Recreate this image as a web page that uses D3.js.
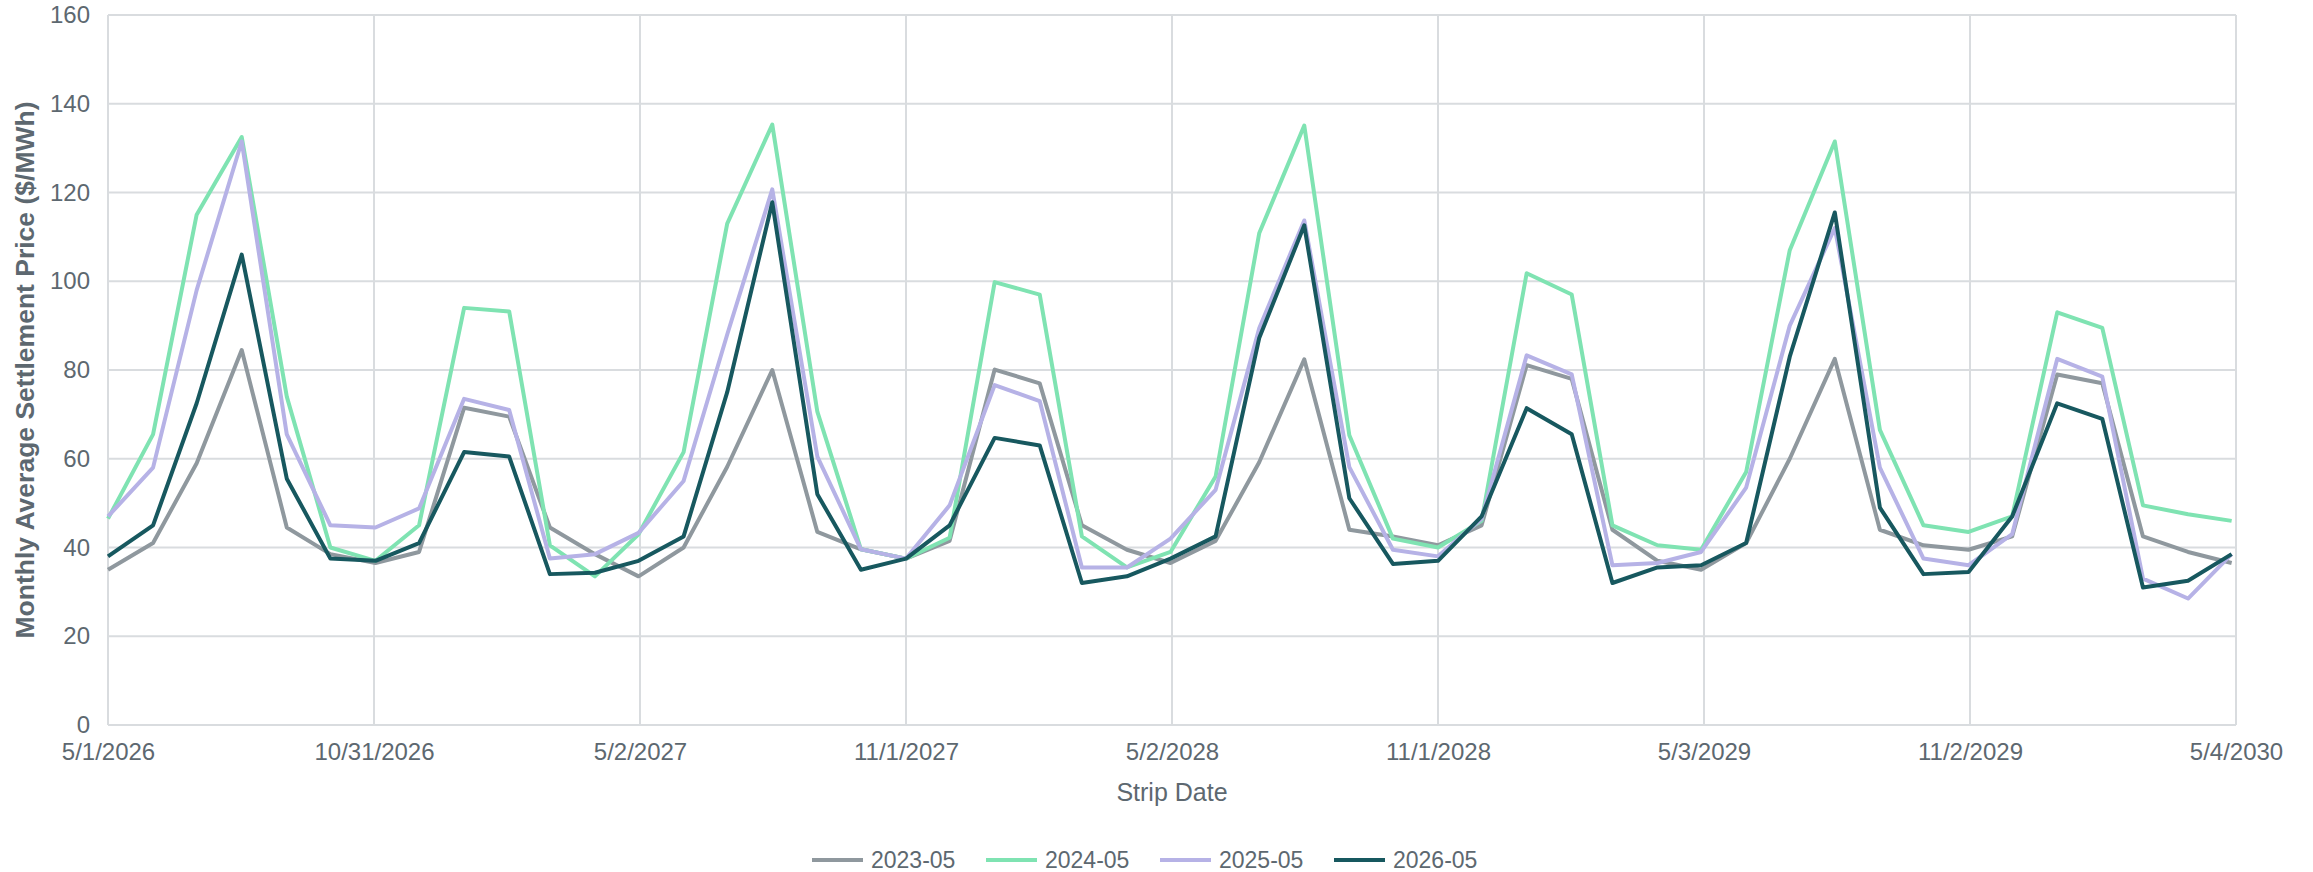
<!DOCTYPE html>
<html>
<head>
<meta charset="utf-8">
<script src="https://cdn.jsdelivr.net/npm/d3@7"></script>
<style>
  body { margin: 0; background: #fff; }
  text { font-family: "Liberation Sans", Arial, sans-serif; }
</style>
</head>
<body>
<svg id="chart" width="2313" height="872" viewBox="0 0 2313 872"></svg>
<script>

/* ----- Data ----- */

// first strip month, one value per month after that
const start_date = new Date(2026, 4, 1);
const end_date = new Date(2030, 4, 4);

const series_names = ["2023-05", "2024-05", "2025-05", "2026-05"];
const series_colors = ["#8f989e", "#7fe3b2", "#b6b2e6", "#17585f"];

const curve_2023_05 = [35, 41, 59, 84.5, 44.5, 38.5, 36.5, 39, 71.5, 69.5, 44.5, 38.5,
    33.5, 40, 58.2, 80, 43.5, 39.6, 37.5, 41.5, 80.1, 77, 45, 39.5,
    36.5, 41.5, 59.2, 82.4, 44, 42.5, 40.5, 45, 81.1, 78, 44, 37,
    35, 41, 60, 82.5, 44, 40.5, 39.5, 42.5, 79, 77, 42.5, 39, 36.5];

const curve_2024_05 = [46.5, 65.5, 115, 132.5, 74, 40, 37, 45, 94, 93.2, 40.5, 33.5,
    43, 61.5, 113, 135.3, 70.6, 39.6, 37.5, 42.2, 99.8, 97, 42.5, 35.5,
    39, 56, 110.8, 135.1, 65.3, 42, 40, 46, 101.8, 97, 45, 40.5,
    39.5, 57, 107, 131.5, 66.5, 45, 43.5, 47, 93, 89.5, 49.5, 47.5, 46];

const curve_2025_05 = [47, 58, 98, 131.5, 65.5, 45, 44.5, 48.8, 73.5, 71, 37.5, 38.5,
    43.3, 55, 88, 120.7, 60.5, 39.6, 37.5, 49.5, 76.6, 73, 35.5, 35.5,
    42, 53, 89.4, 113.7, 58.1, 39.5, 38, 46.5, 83.3, 79, 36, 36.5,
    39, 53.5, 90, 112, 58, 37.5, 36, 43, 82.5, 78.5, 33, 28.5, 38.5];

const curve_2026_05 = [38, 45, 72.5, 106, 55.5, 37.5, 37, 41, 61.5, 60.5, 34, 34.3,
    37, 42.5, 75, 117.8, 52, 35, 37.5, 45, 64.7, 63, 32, 33.5,
    37.5, 42.5, 87.2, 112.6, 51.1, 36.3, 37, 47, 71.4, 65.5, 32, 35.5,
    36, 41, 83, 115.5, 49, 34, 34.5, 47, 72.5, 69, 31, 32.5, 38.5];

const y_ticks = [0, 20, 40, 60, 80, 100, 120, 140, 160];


/* ----- Layout ----- */

let svg = d3.select("#chart");
let margin = {left: 108, right: 77, top: 15, bottom: 147};
let width = 2313 - margin.left - margin.right;
let height = 872 - margin.top - margin.bottom;

let main_group = svg.append("g")
    .attr("transform", `translate(${margin.left}, ${margin.top})`);

let months = d3.range(curve_2023_05.length).map(i => d3.timeMonth.offset(start_date, i));

let data = series_names.map((name, k) => ({
    name: name,
    color: series_colors[k],
    values: [curve_2023_05, curve_2024_05, curve_2025_05, curve_2026_05][k]
        .map((v, i) => ({date: months[i], value: v}))
}));


/* ----- Scales ----- */

let x = d3.scaleTime()
    .domain([start_date, end_date])
    .range([0, width]);

let y = d3.scaleLinear()
    .domain([0, 160])
    .range([height, 0]);

// excel style date ticks, one every 183 days
let x_ticks = d3.range(0, 9).map(k => d3.timeDay.offset(start_date, k * 183));


/* ----- Grid ----- */

main_group.append("g")
    .selectAll("line")
    .data(y_ticks)
    .enter()
    .append("line")
    .attr("x1", 0)
    .attr("x2", width)
    .attr("y1", d => y(d))
    .attr("y2", d => y(d))
    .attr("stroke", "#d9dcdf")
    .attr("stroke-width", 2);

main_group.append("g")
    .selectAll("line")
    .data(x_ticks)
    .enter()
    .append("line")
    .attr("x1", d => x(d))
    .attr("x2", d => x(d))
    .attr("y1", 0)
    .attr("y2", height)
    .attr("stroke", "#d9dcdf")
    .attr("stroke-width", 2);


/* ----- Axes ----- */

let fmt = d => `${d.getMonth() + 1}/${d.getDate()}/${d.getFullYear()}`;

let x_axis = main_group.append("g")
    .attr("transform", `translate(0, ${height})`)
    .call(d3.axisBottom(x).tickValues(x_ticks).tickFormat(fmt).tickSize(0).tickPadding(18));

let y_axis = main_group.append("g")
    .call(d3.axisLeft(y).tickValues(y_ticks).tickSize(0).tickPadding(18));

[x_axis, y_axis].forEach(a => {
    a.select(".domain").remove();
    a.selectAll("text")
        .attr("fill", "#5d6870")
        .attr("font-size", 24);
});

svg.append("text")
    .attr("x", margin.left + width / 2)
    .attr("y", 801)
    .attr("text-anchor", "middle")
    .attr("fill", "#5d6870")
    .attr("font-size", 25)
    .text("Strip Date");

svg.append("text")
    .attr("transform", `translate(34, ${margin.top + height / 2}) rotate(-90)`)
    .attr("text-anchor", "middle")
    .attr("fill", "#5d6870")
    .attr("font-size", 26.5)
    .attr("font-weight", "bold")
    .text("Monthly Average Settlement Price ($/MWh)");


/* ----- Lines ----- */

let line = d3.line()
    .x(d => x(d.date))
    .y(d => y(d.value));

main_group.append("g")
    .selectAll("path")
    .data(data)
    .enter()
    .append("path")
    .attr("d", d => line(d.values))
    .attr("fill", "none")
    .attr("stroke", d => d.color)
    .attr("stroke-width", 4)
    .attr("stroke-linejoin", "round");


/* ----- Legend ----- */

let legend = svg.append("g")
    .attr("transform", "translate(812, 860)");

let legend_items = legend.selectAll("g")
    .data(data)
    .enter()
    .append("g")
    .attr("transform", (d, i) => `translate(${i * 174}, 0)`);

legend_items.append("line")
    .attr("x1", 0)
    .attr("x2", 51)
    .attr("y1", 0)
    .attr("y2", 0)
    .attr("stroke", d => d.color)
    .attr("stroke-width", 4);

legend_items.append("text")
    .attr("x", 59)
    .attr("y", 8)
    .attr("fill", "#5d6870")
    .attr("font-size", 23)
    .text(d => d.name);

</script>
</body>
</html>
